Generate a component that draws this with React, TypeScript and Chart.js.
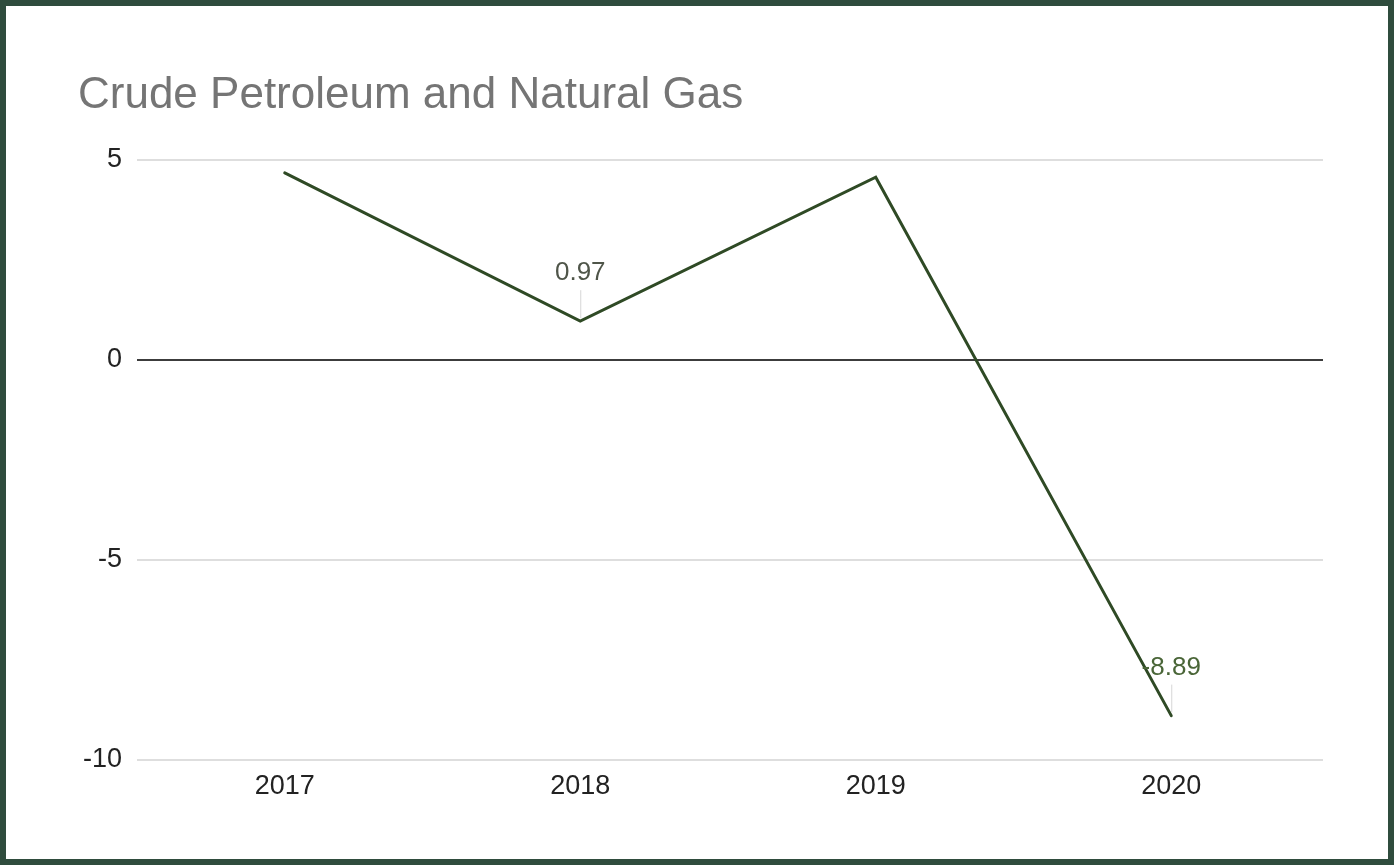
import React, { useEffect, useRef } from "react";
import { Chart, registerables } from "chart.js";

Chart.register(...registerables);

const title = "Crude Petroleum and Natural Gas";
const categories = ["2017", "2018", "2019", "2020"];
const values = [4.68, 0.97, 4.57, -8.89];
const labeledIndexes = [1, 3];
const yTicks = [-10, -5, 0, 5];

const FONT = "'Liberation Sans', Arial, sans-serif";

export default function App() {
  const ref = useRef<HTMLCanvasElement | null>(null);

  useEffect(() => {
    document.body.style.margin = "0";
    const canvas = ref.current;
    if (!canvas) return;

    const gridPlugin = {
      id: "customGrid",
      beforeDatasetsDraw(chart: any) {
        const ctx = chart.ctx;
        const area = chart.chartArea;
        const y = chart.scales.y;
        ctx.save();
        yTicks.forEach((v) => {
          const py = Math.round(y.getPixelForValue(v));
          ctx.strokeStyle = v === 0 ? "#3c3c3c" : "#d3d3d3";
          ctx.lineWidth = v === 0 ? 2 : 1.5;
          ctx.beginPath();
          ctx.moveTo(area.left, py);
          ctx.lineTo(area.right + 4, py);
          ctx.stroke();
        });
        ctx.restore();
      },
    };

    const titlePlugin = {
      id: "customTitle",
      afterDraw(chart: any) {
        const ctx = chart.ctx;
        ctx.save();
        ctx.font = `44px ${FONT}`;
        ctx.fillStyle = "#757575";
        ctx.textAlign = "left";
        ctx.textBaseline = "alphabetic";
        ctx.fillText(title, 72, 102);
        ctx.restore();
      },
    };

    const labelPlugin = {
      id: "pointLabels",
      afterDatasetsDraw(chart: any) {
        const ctx = chart.ctx;
        const meta = chart.getDatasetMeta(0);
        ctx.save();
        labeledIndexes.forEach((i) => {
          const pt = meta.data[i];
          if (!pt) return;
          const x = pt.x;
          const y = pt.y;
          ctx.strokeStyle = "#d6d6d6";
          ctx.lineWidth = 1;
          ctx.beginPath();
          ctx.moveTo(x + 0.5, y - 31);
          ctx.lineTo(x + 0.5, y - 3);
          ctx.stroke();
          ctx.font = `26px ${FONT}`;
          ctx.fillStyle = i === 3 ? "#4a6638" : "#4f5549";
          ctx.textAlign = "center";
          ctx.textBaseline = "alphabetic";
          ctx.fillText(String(values[i]), x, y - 41);
        });
        ctx.restore();
      },
    };

    const chart = new Chart(canvas, {
      type: "line",
      data: {
        labels: categories,
        datasets: [
          {
            data: values,
            borderColor: "#2f4a25",
            borderWidth: 3,
            pointRadius: 0,
            pointHoverRadius: 0,
            tension: 0,
            fill: false,
            borderCapStyle: "round",
          },
        ],
      },
      options: {
        responsive: false,
        animation: false,
        maintainAspectRatio: false,
        layout: { padding: { left: 0, right: 69, top: 154, bottom: 0 } },
        plugins: {
          legend: { display: false },
          title: { display: false },
          tooltip: { enabled: false },
        },
        scales: {
          x: {
            type: "category",
            offset: true,
            grid: { display: false, drawTicks: false },
            border: { display: false },
            ticks: {
              color: "#222222",
              font: { family: FONT, size: 27 },
              padding: 10,
              maxRotation: 0,
            },
            afterFit(scale: any) {
              scale.height = 99;
            },
          },
          y: {
            min: -10,
            max: 5,
            afterBuildTicks(scale: any) {
              scale.ticks = yTicks.map((v) => ({ value: v }));
            },
            grid: { display: false, drawTicks: false },
            border: { display: false },
            ticks: {
              color: "#222222",
              font: { family: FONT, size: 27 },
              padding: 15,
            },
            afterFit(scale: any) {
              scale.width = 131;
            },
          },
        },
      },
      plugins: [gridPlugin, titlePlugin, labelPlugin],
    });

    return () => chart.destroy();
  }, []);

  return (
    <div
      style={{
        position: "absolute",
        left: 0,
        top: 0,
        width: 1394,
        height: 865,
        boxSizing: "border-box",
        border: "6px solid #2f4c3d",
        background: "#ffffff",
      }}
    >
      <canvas ref={ref} width={1382} height={853} style={{ display: "block" }} />
    </div>
  );
}
